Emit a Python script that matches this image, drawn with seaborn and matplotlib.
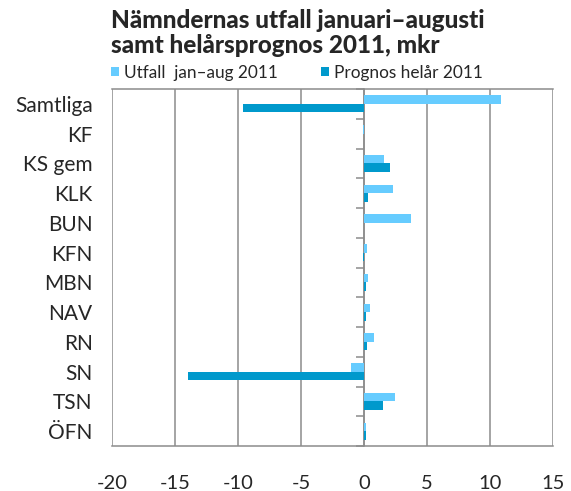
import numpy as np
import pandas as pd
import seaborn as sns
import matplotlib.pyplot as plt
from matplotlib.ticker import FixedLocator, NullFormatter

# Data (mkr)
committees = ['Samtliga', 'KF', 'KS gem', 'KLK', 'BUN', 'KFN', 'MBN', 'NAV', 'RN', 'SN', 'TSN', 'ÖFN']
utfall = [10.9, -0.05, 1.6, 2.3, 3.7, 0.27, 0.35, 0.47, 0.8, -1.05, 2.45, 0.15]
prognos = [-9.6, 0.0, 2.1, 0.35, 0.0, -0.1, 0.13, 0.13, 0.27, -14.0, 1.5, 0.17]
series_names = ['Utfall  jan–aug 2011', 'Prognos helår 2011']
x_ticks = [-20, -15, -10, -5, 0, 5, 10, 15]

df = pd.DataFrame({
    'namnd': committees * 2,
    'value': utfall + prognos,
    'serie': [series_names[0]] * len(committees) + [series_names[1]] * len(committees),
})

sns.set_style('white')
plt.rcParams['font.family'] = ['Lato', 'DejaVu Sans']
plt.rcParams['axes.unicode_minus'] = False

W, H = 571, 491
fig = plt.figure(figsize=(W / 100, H / 100), dpi=100)
ax = fig.add_axes([112 / W, 1 - 446 / H, (553 - 112) / W, (446 - 89) / H])

palette = {series_names[0]: '#66CCFF', series_names[1]: '#0099CC'}
sns.barplot(data=df, y='namnd', x='value', hue='serie', orient='h', palette=palette,
            width=0.57, order=committees, hue_order=series_names, ax=ax,
            saturation=1, edgecolor='none', linewidth=0)

grey = '#8c8c8c'
ax.set_xlim(-20, 15)
ax.set_ylim(len(committees) - 0.5, -0.5)
ax.xaxis.set_major_locator(FixedLocator(x_ticks))
ax.grid(axis='x', color=grey, linewidth=1.1)
ax.set_axisbelow(True)
for side in ['top', 'bottom']:
    ax.spines[side].set_color(grey)
    ax.spines[side].set_linewidth(1.1)
for side in ['left', 'right']:
    ax.spines[side].set_visible(False)

ax.tick_params(axis='x', length=5, width=1.1, color=grey, labelsize=14.5, pad=16, direction='out')
ax.tick_params(axis='y', length=0, labelsize=15, pad=14)
ax.set_xlabel('')
ax.set_ylabel('')

# vertical axis crossing at zero with category tick marks
zero_frac = (0 - x_ticks[0]) / (x_ticks[-1] - x_ticks[0])
sec = ax.secondary_yaxis(zero_frac)
for sp in sec.spines.values():
    sp.set_color(grey)
    sp.set_linewidth(1.1)
sec.yaxis.set_major_locator(FixedLocator(np.arange(-0.5, len(committees), 1.0)))
sec.yaxis.set_major_formatter(NullFormatter())
sec.tick_params(axis='y', length=6, width=1.1, color=grey, direction='in')

ax.legend(loc='center left', bbox_to_anchor=(111 / W, 1 - 73 / H), bbox_transform=fig.transFigure,
          ncol=2, frameon=False, fontsize=12.4, handlelength=0.45, handleheight=0.45,
          handletextpad=0.3, columnspacing=2.5, borderpad=0, borderaxespad=0)

fig.text(111 / W, 1 - 28 / H, 'Nämndernas utfall januari–augusti',
         ha='left', va='baseline', fontsize=17.5, fontweight='black')
fig.text(111 / W, 1 - 53 / H, 'samt helårsprognos 2011, mkr',
         ha='left', va='baseline', fontsize=17.5, fontweight='black')

fig.savefig('out.png', dpi=100)
